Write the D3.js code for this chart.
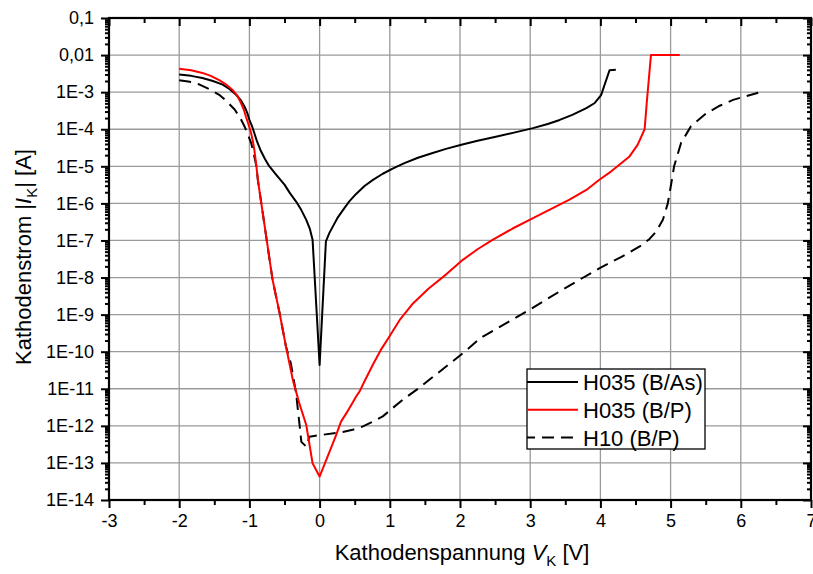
<!DOCTYPE html>
<html>
<head>
<meta charset="utf-8">
<script src="https://cdn.jsdelivr.net/npm/d3@7"></script>
<style>
  body { margin: 0; background: #fff; }
  svg { font-family: Arial, "Liberation Sans", sans-serif; }
</style>
</head>
<body>
<div id="chart"></div>
<script>
// H035 (B/As)
const vBAs = [-2.0, -1.83, -1.67, -1.52, -1.38, -1.28, -1.19, -1.12, -1.07, -1.03, -1.0, -0.96, -0.93, -0.89, -0.845, -0.78, -0.72, -0.62, -0.50, -0.42, -0.335, -0.26, -0.19, -0.14, -0.10,
  0.0,
  0.09, 0.14, 0.19, 0.26, 0.33, 0.42, 0.52, 0.64, 0.76, 0.90, 1.04, 1.2, 1.4, 1.6, 1.8, 2.02, 2.25, 2.51, 2.77, 3.04, 3.25, 3.42, 3.60, 3.80, 3.92, 4.01, 4.13, 4.22];
const iBAs = [3.0e-3, 2.75e-3, 2.4e-3, 2.0e-3, 1.6e-3, 1.2e-3, 8.5e-4, 6.0e-4, 4.1e-4, 2.75e-4, 1.8e-4, 1.17e-4, 7.9e-5, 4.6e-5, 2.8e-5, 1.6e-5, 1.02e-5, 6.0e-6, 3.2e-6, 1.86e-6, 1.12e-6, 6.6e-7, 3.6e-7, 2.1e-7, 1.05e-7,
  4.4e-11,
  9.5e-8, 1.6e-7, 2.4e-7, 4.2e-7, 6.5e-7, 1.12e-6, 1.8e-6, 2.95e-6, 4.3e-6, 6.3e-6, 8.7e-6, 1.2e-5, 1.7e-5, 2.24e-5, 2.95e-5, 3.8e-5, 4.9e-5, 6.3e-5, 8.1e-5, 1.07e-4, 1.38e-4, 1.78e-4, 2.45e-4, 3.7e-4, 5.1e-4, 8.3e-4, 3.9e-3, 4.0e-3];

// H035 (B/P)
const vBP = [-2.0, -1.83, -1.67, -1.55, -1.43, -1.33, -1.24, -1.17, -1.12, -1.08, -1.05, -1.01, -0.976, -0.95, -0.93, -0.90, -0.88, -0.85, -0.81, -0.74, -0.67, -0.57, -0.48, -0.38, -0.29, -0.19, -0.10,
  0.0,
  0.115, 0.235, 0.305, 0.40, 0.47, 0.52, 0.57, 0.64, 0.76, 0.87, 0.99, 1.15, 1.33, 1.55, 1.80, 2.04, 2.25, 2.47, 2.75, 3.04, 3.30, 3.56, 3.80, 3.99, 4.15, 4.27, 4.41, 4.53, 4.63, 4.66, 4.72, 5.13];
const iBP = [4.3e-3, 3.9e-3, 3.3e-3, 2.75e-3, 2.1e-3, 1.6e-3, 1.15e-3, 7.9e-4, 5.1e-4, 3.4e-4, 2.2e-4, 1.3e-4, 7.9e-5, 4.7e-5, 2.8e-5, 1.0e-5, 4.4e-6, 1.8e-6, 5.5e-7, 6.9e-8, 8.7e-9, 1.1e-9, 1.4e-10, 1.7e-11, 4.1e-12, 1.05e-12, 9.8e-14,
  4.3e-14,
  1.5e-13, 5.6e-13, 1.3e-12, 2.5e-12, 4.2e-12, 6.2e-12, 8.5e-12, 1.6e-11, 4.5e-11, 1.1e-10, 2.5e-10, 7.6e-10, 2.0e-9, 5.0e-9, 1.2e-8, 3.0e-8, 5.8e-8, 1.05e-7, 2.1e-7, 4.0e-7, 7.1e-7, 1.26e-6, 2.3e-6, 4.4e-6, 7.2e-6, 1.1e-5, 1.8e-5, 3.8e-5, 1.0e-4, 5.1e-4, 1.0e-2, 1.0e-2];

// H10 (B/P)
const vH10 = [-2.0, -1.85, -1.71, -1.57, -1.43, -1.32, -1.21, -1.13, -1.07, -1.02, -0.976, -0.95, -0.90, -0.88, -0.85, -0.81, -0.74, -0.67, -0.57, -0.48, -0.41, -0.335, -0.28, -0.26, -0.19, -0.145,
  0.0, 0.33, 0.47, 0.61, 0.76, 0.90, 1.02, 1.18, 1.40, 1.70, 2.04, 2.30, 2.61, 2.99, 3.46, 3.70, 3.99, 4.30, 4.56, 4.70, 4.79, 4.89, 4.96, 5.01, 5.05, 5.15, 5.29, 5.51, 5.70, 5.89, 6.26];
const iH10 = [2.1e-3, 1.9e-3, 1.6e-3, 1.2e-3, 8.5e-4, 5.6e-4, 3.4e-4, 2.0e-4, 1.2e-4, 7.1e-5, 4.3e-5, 2.8e-5, 1.0e-5, 4.4e-6, 1.8e-6, 5.5e-7, 6.9e-8, 8.7e-9, 1.1e-9, 1.4e-10, 4.9e-11, 7.6e-12, 8.5e-13, 3.7e-13, 2.75e-13, 5.1e-13,
  5.6e-13, 6.8e-13, 7.8e-13, 9.5e-13, 1.3e-12, 1.8e-12, 2.8e-12, 5.0e-12, 1.0e-11, 2.8e-11, 9.1e-11, 2.4e-10, 5.2e-10, 1.35e-9, 4.7e-9, 8.7e-9, 1.8e-8, 3.6e-8, 6.9e-8, 1.1e-7, 1.7e-7, 3.6e-7, 1.0e-6, 3.5e-6, 1.0e-5, 4.3e-5, 1.2e-4, 2.7e-4, 4.3e-4, 6.2e-4, 9.8e-4];

const seriesNames = ["H035 (B/As)", "H035 (B/P)", "H10 (B/P)"];
const xTicks = [-3, -2, -1, 0, 1, 2, 3, 4, 5, 6, 7];
const yDecades = d3.range(-14, 0); // 1E-14 ... 0,1

let width = 813, height = 574;
let margin = { left: 109, right: 2, top: 18, bottom: 74 };

let svg = d3.select("#chart")
  .append("svg")
  .attr("width", width)
  .attr("height", height);

let xScale = d3.scaleLinear()
  .domain([-3, 7])
  .range([margin.left, width - margin.right]);

let yScale = d3.scaleLog()
  .domain([1e-14, 0.1])
  .range([height - margin.bottom, margin.top]);

let yMajor = yDecades.map(k => Math.pow(10, k));
let yMinor = [];
yDecades.slice(0, -1).forEach(k => {
  for (let m = 2; m <= 9; m++) yMinor.push(m * Math.pow(10, k));
});
let xMinor = d3.range(-2.5, 7, 1);

function yLabel(v) {
  let k = Math.round(Math.log10(v));
  if (k === -1) return "0,1";
  if (k === -2) return "0,01";
  return "1E" + k;
}

// grid
svg.append("g")
  .attr("class", "grid")
  .selectAll("line.gx")
  .data(xTicks.slice(1, -1))
  .enter().append("line")
  .attr("x1", d => xScale(d)).attr("x2", d => xScale(d))
  .attr("y1", margin.top).attr("y2", height - margin.bottom)
  .style("stroke", "#9a9a9a").style("stroke-width", 1.3);

svg.append("g")
  .attr("class", "grid")
  .selectAll("line.gy")
  .data(yMajor.slice(1, -1))
  .enter().append("line")
  .attr("y1", d => yScale(d)).attr("y2", d => yScale(d))
  .attr("x1", margin.left).attr("x2", width - margin.right)
  .style("stroke", "#9a9a9a").style("stroke-width", 1.3);

// curves
let line = d3.line()
  .x(d => xScale(d[0]))
  .y(d => yScale(d[1]))
  .curve(d3.curveLinear);

let seriesData = [
  { name: seriesNames[0], pts: d3.zip(vBAs, iBAs), color: "#000", dash: null },
  { name: seriesNames[1], pts: d3.zip(vBP, iBP), color: "#ff0000", dash: null },
  { name: seriesNames[2], pts: d3.zip(vH10, iH10), color: "#000", dash: "12,7" }
];

svg.append("g")
  .selectAll("path")
  .data([seriesData[2], seriesData[0], seriesData[1]])
  .enter().append("path")
  .attr("d", d => line(d.pts))
  .style("fill", "none")
  .style("stroke", d => d.color)
  .style("stroke-width", 2)
  .style("stroke-linejoin", "round")
  .style("stroke-dasharray", d => d.dash);

// axes
let fontSize = "18px";

let xBottom = svg.append("g")
  .attr("transform", "translate(0," + (height - margin.bottom) + ")")
  .call(d3.axisBottom(xScale).tickValues(xTicks).tickSize(8).tickPadding(6).tickFormat(d => String(d)));
xBottom.append("g")
  .call(d3.axisBottom(xScale).tickValues(xMinor).tickSize(5).tickFormat(""));

let xTop = svg.append("g")
  .attr("transform", "translate(0," + margin.top + ")")
  .call(d3.axisBottom(xScale).tickValues(xTicks).tickSize(8).tickFormat(""));
xTop.append("g")
  .call(d3.axisBottom(xScale).tickValues(xMinor).tickSize(5).tickFormat(""));

let yLeft = svg.append("g")
  .attr("transform", "translate(" + margin.left + ",0)")
  .call(d3.axisLeft(yScale).tickValues(yMajor).tickSize(8).tickPadding(7).tickFormat(yLabel));
yLeft.append("g")
  .call(d3.axisLeft(yScale).tickValues(yMinor).tickSize(4).tickFormat(""));

let yRight = svg.append("g")
  .attr("transform", "translate(" + (width - margin.right) + ",0)")
  .call(d3.axisLeft(yScale).tickValues(yMajor).tickSize(8).tickFormat(""));
yRight.append("g")
  .call(d3.axisLeft(yScale).tickValues(yMinor).tickSize(4).tickFormat(""));

svg.selectAll(".domain").remove();
svg.selectAll(".tick line").style("stroke", "#000").style("stroke-width", 2);
svg.selectAll(".tick text")
  .style("font-size", fontSize)
  .style("font-family", "Arial, 'Liberation Sans', sans-serif")
  .style("fill", "#000");

// frame
svg.append("rect")
  .attr("x", margin.left).attr("y", margin.top)
  .attr("width", width - margin.left - margin.right)
  .attr("height", height - margin.top - margin.bottom)
  .style("fill", "none").style("stroke", "#000").style("stroke-width", 2.2);

// axis titles
let xt = svg.append("text")
  .attr("x", 462).attr("y", 560)
  .attr("text-anchor", "middle")
  .style("font-size", "22px");
xt.append("tspan").text("Kathodenspannung ");
xt.append("tspan").style("font-style", "italic").text("V");
xt.append("tspan").attr("dy", 6).style("font-size", "15px").text("K");
xt.append("tspan").attr("dy", -6).text(" [V]");

let yt = svg.append("text")
  .attr("transform", "translate(31,257) rotate(-90)")
  .attr("text-anchor", "middle")
  .style("font-size", "22px");
yt.append("tspan").text("Kathodenstrom |");
yt.append("tspan").style("font-style", "italic").text("I");
yt.append("tspan").attr("dy", 6).style("font-size", "15px").text("K");
yt.append("tspan").attr("dy", -6).text("| [A]");

// legend
let lg = svg.append("g").attr("transform", "translate(527,369)");
lg.append("rect")
  .attr("width", 178).attr("height", 80)
  .style("fill", "#fff").style("stroke", "#000").style("stroke-width", 1.3);
let rows = lg.selectAll("g.row")
  .data(seriesData)
  .enter().append("g")
  .attr("transform", (d, i) => "translate(0," + (13 + i * 27.8) + ")");
rows.append("line")
  .attr("x1", 0).attr("x2", 51)
  .style("stroke", d => d.color)
  .style("stroke-width", 2)
  .style("stroke-dasharray", d => d.dash ? "12,7" : null)
  .attr("stroke-dashoffset", d => d.dash ? 4 : 0);
rows.append("text")
  .attr("x", 56).attr("y", 8)
  .style("font-size", "22px")
  .text(d => d.name);
</script>
</body>
</html>
